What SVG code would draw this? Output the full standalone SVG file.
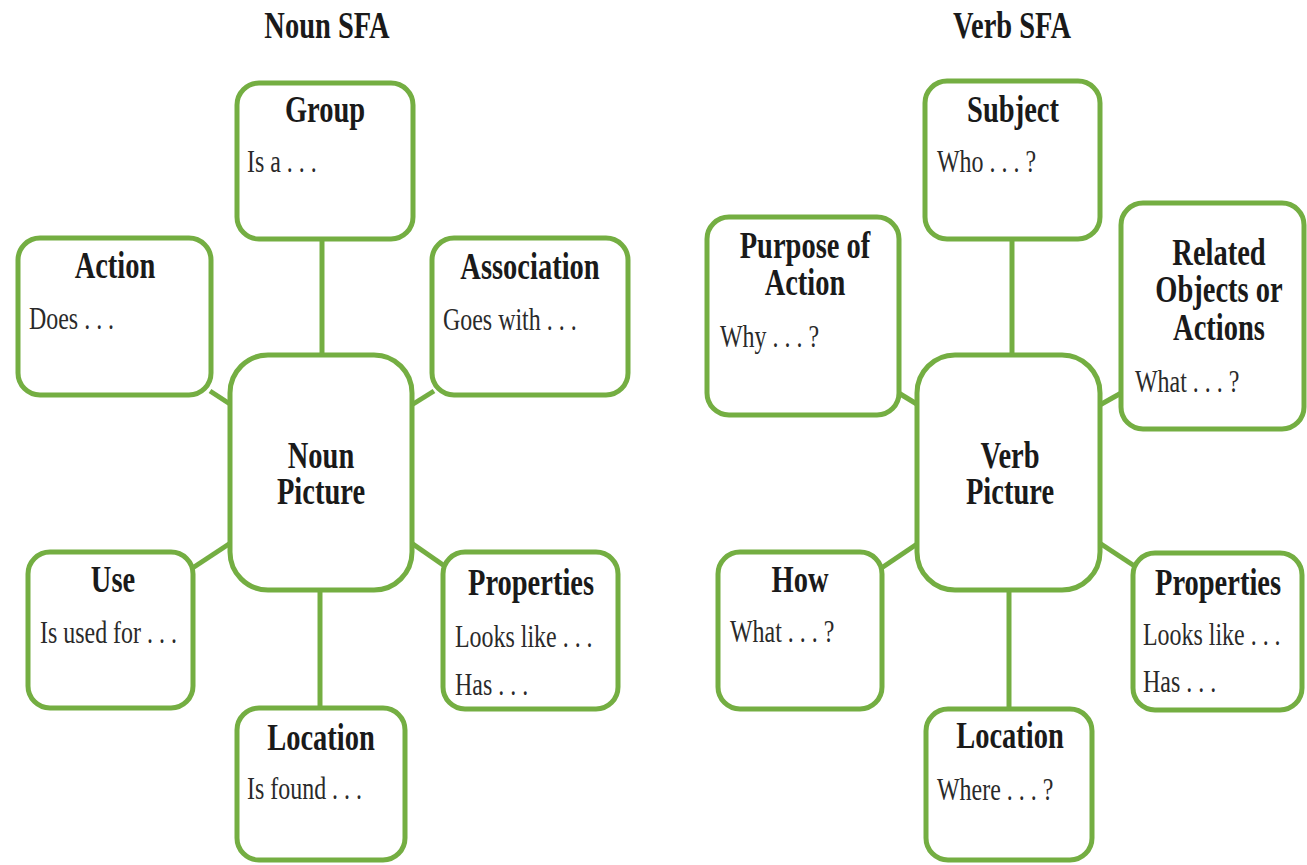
<svg xmlns="http://www.w3.org/2000/svg" width="1307" height="865" viewBox="0 0 1307 865">
<style>
.box{fill:#fff;stroke:#74ae42;stroke-width:5}
.con line{stroke:#74ae42;stroke-width:5}
.t{font-family:"Liberation Serif","Times New Roman",serif;font-size:37.5px;font-weight:bold;fill:#1a1a1a;text-anchor:middle}
.b{font-family:"Liberation Serif","Times New Roman",serif;font-size:31.5px;fill:#2a2a2a}
</style>
<rect width="1307" height="865" fill="#fff"/>
<text class="t" transform="translate(327,38) scale(0.76,1)">Noun SFA</text>
<text class="t" transform="translate(1012,38) scale(0.76,1)">Verb SFA</text>
<g class="con" id="connectors">
<line x1="322" y1="239" x2="322" y2="356"/>
<line x1="210" y1="391" x2="233" y2="406"/>
<line x1="410" y1="406" x2="434" y2="391"/>
<line x1="191" y1="569" x2="232" y2="542"/>
<line x1="410" y1="542" x2="446" y2="567"/>
<line x1="320" y1="589" x2="320" y2="709"/>
<line x1="1012" y1="239" x2="1012" y2="356"/>
<line x1="897" y1="392" x2="920" y2="406"/>
<line x1="1098" y1="406" x2="1123" y2="392"/>
<line x1="880" y1="569" x2="920" y2="542"/>
<line x1="1098" y1="542" x2="1136" y2="567"/>
<line x1="1009" y1="589" x2="1009" y2="710"/>
</g>
<g id="n-group"><rect class="box" x="237" y="83" width="176" height="156" rx="22"/>
<text class="t" transform="translate(325,122) scale(0.76,1)">Group</text>
<text class="b" transform="translate(247,172) scale(0.76,1)">Is a . . .</text></g>
<g id="n-action"><rect class="box" x="18" y="238" width="193" height="157" rx="22"/>
<text class="t" transform="translate(115,278) scale(0.76,1)">Action</text>
<text class="b" transform="translate(29,329) scale(0.76,1)">Does . . .</text></g>
<g id="n-association"><rect class="box" x="432" y="238" width="196" height="157" rx="22"/>
<text class="t" transform="translate(530,279) scale(0.76,1)">Association</text>
<text class="b" transform="translate(443,330) scale(0.76,1)">Goes with . . .</text></g>
<g id="n-center"><rect class="box" x="230" y="355" width="182" height="235" rx="38"/>
<text class="t" transform="translate(321,468) scale(0.76,1)"><tspan x="0" y="0">Noun</tspan><tspan x="0" y="36">Picture</tspan></text></g>
<g id="n-use"><rect class="box" x="28" y="552" width="165" height="156" rx="22"/>
<text class="t" transform="translate(113,592) scale(0.76,1)">Use</text>
<text class="b" transform="translate(40,643) scale(0.76,1)">Is used for . . .</text></g>
<g id="n-properties"><rect class="box" x="443" y="552" width="175" height="157" rx="22"/>
<text class="t" transform="translate(531,595) scale(0.76,1)">Properties</text>
<text class="b" transform="translate(455,647) scale(0.76,1)"><tspan x="0" y="0">Looks like . . .</tspan><tspan x="0" y="48">Has . . .</tspan></text></g>
<g id="n-location"><rect class="box" x="237" y="708" width="168" height="152" rx="22"/>
<text class="t" transform="translate(321,750) scale(0.76,1)">Location</text>
<text class="b" transform="translate(247,799) scale(0.76,1)">Is found . . .</text></g>
<g id="v-subject"><rect class="box" x="925" y="81" width="175" height="158" rx="22"/>
<text class="t" transform="translate(1013,122) scale(0.76,1)">Subject</text>
<text class="b" transform="translate(937,172) scale(0.76,1)">Who . . . ?</text></g>
<g id="v-purpose"><rect class="box" x="707" y="217" width="192" height="198" rx="22"/>
<text class="t" transform="translate(805,258) scale(0.76,1)"><tspan x="0" y="0">Purpose of</tspan><tspan x="0" y="37">Action</tspan></text>
<text class="b" transform="translate(720,347) scale(0.76,1)">Why . . . ?</text></g>
<g id="v-related"><rect class="box" x="1121" y="203" width="183" height="226" rx="22"/>
<text class="t" transform="translate(1219,265) scale(0.76,1)"><tspan x="0" y="0">Related</tspan><tspan x="0" y="37">Objects or</tspan><tspan x="0" y="75">Actions</tspan></text>
<text class="b" transform="translate(1135,392) scale(0.76,1)">What . . . ?</text></g>
<g id="v-center"><rect class="box" x="917" y="355" width="183" height="235" rx="38"/>
<text class="t" transform="translate(1010,468) scale(0.76,1)"><tspan x="0" y="0">Verb</tspan><tspan x="0" y="36">Picture</tspan></text></g>
<g id="v-how"><rect class="box" x="718" y="552" width="164" height="157" rx="22"/>
<text class="t" transform="translate(800,592) scale(0.76,1)">How</text>
<text class="b" transform="translate(730,642) scale(0.76,1)">What . . . ?</text></g>
<g id="v-properties"><rect class="box" x="1133" y="553" width="169" height="157" rx="22"/>
<text class="t" transform="translate(1218,595) scale(0.76,1)">Properties</text>
<text class="b" transform="translate(1143,645) scale(0.76,1)"><tspan x="0" y="0">Looks like . . .</tspan><tspan x="0" y="47">Has . . .</tspan></text></g>
<g id="v-location"><rect class="box" x="926" y="709" width="166" height="151" rx="22"/>
<text class="t" transform="translate(1010,748) scale(0.76,1)">Location</text>
<text class="b" transform="translate(937,800) scale(0.76,1)">Where . . . ?</text></g>
</svg>
